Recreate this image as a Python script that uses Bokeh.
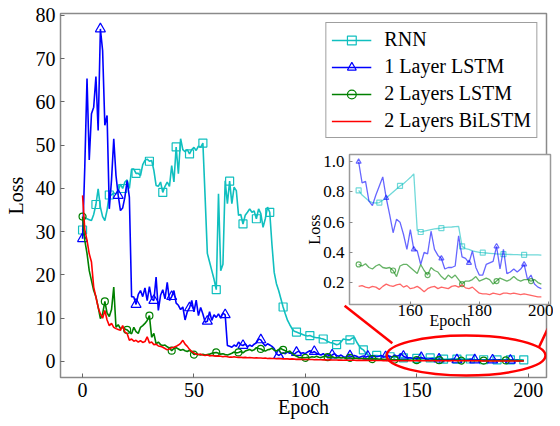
from bokeh.plotting import figure
from bokeh.models import Range1d, Legend, LegendItem, FixedTicker, PrintfTickFormatter
from bokeh.layouts import column
from bokeh.embed import file_html
from bokeh.resources import INLINE

FONT = "Liberation Serif"

# ---------------- data ----------------
series_names = ["RNN", "1 Layer LSTM", "2 Layers LSTM", "2 Layers BiLSTM"]

rnn_head = [
    30.4, 33.4, 33.0, 32.8, 32.6, 34.0, 36.3, 39.9, 35.7, 33.5,
    32.6, 35.0, 38.5, 38.5, 39.0, 38.7, 39.5, 41.0, 40.0, 41.5,
    42.0, 40.0, 44.5, 44.5, 43.5, 43.5, 43.0, 45.5, 46.5, 46.8,
    46.3, 46.5, 44.2, 40.7, 40.5, 41.5, 39.1, 40.5, 41.5, 40.5,
    45.3, 41.5, 49.6, 43.4, 51.5, 49.0, 48.5, 49.0, 48.0, 49.0,
    49.5, 48.8, 49.8, 49.5, 50.5, 38.0, 25.0, 23.0, 21.0, 19.0,
    16.6, 38.8, 21.0, 22.5, 41.8, 36.5, 41.7, 36.5, 40.3, 39.5,
    33.8, 34.0, 31.8, 33.8, 34.5, 35.3, 34.5, 34.8, 33.0, 35.3,
    34.2, 31.0, 33.0, 35.7, 34.5, 27.0, 20.6, 18.0, 16.4, 14.5,
    12.6, 11.0, 9.5, 8.5, 7.6, 7.0, 6.8, 6.6, 6.4, 6.2,
    6.0, 5.9, 6.0, 5.8, 5.6, 5.5, 5.5, 5.3, 5.2, 5.0,
    4.6, 4.4, 4.3, 4.1, 3.9, 4.0, 4.5, 5.2, 5.1, 5.0,
    5.0, 5.4, 5.6, 4.5, 3.7, 3.0, 2.7, 2.0, 1.6, 1.3,
    1.3, 1.4, 1.4, 1.3, 1.25, 1.2, 1.2, 1.15, 1.1, 1.1,
    1.05, 1.0, 0.95, 0.9, 0.85,
]
lstm1_head = [
    28.4, 45.0, 65.4, 46.6, 57.3, 58.8, 65.9, 53.4, 76.9, 71.9,
    54.6, 56.9, 35.3, 42.0, 51.5, 43.0, 38.4, 34.9, 35.5, 38.0,
    41.8, 38.0, 15.0, 14.9, 13.2, 15.5, 16.4, 15.0, 17.0, 14.1,
    17.3, 14.5, 14.1, 19.5, 11.8, 15.3, 16.6, 14.5, 18.3, 14.1,
    15.0, 16.4, 13.5, 13.0, 12.0, 12.6, 9.6, 11.5, 12.4, 14.1,
    11.5, 14.2, 10.6, 12.5, 11.0, 9.1, 9.3, 11.5, 9.5, 10.8,
    10.2, 11.0, 10.0, 11.2, 10.8, 3.7, 3.5, 3.3, 3.8, 3.5,
    4.5, 3.9, 3.7, 4.1, 3.4, 3.8, 3.5, 4.0, 4.3, 5.2,
    5.0, 4.2, 3.6, 4.1, 3.8, 3.5, 3.0, 1.8, 1.4, 1.7,
    2.0, 1.8, 2.2, 1.9, 2.0, 1.7, 2.1, 2.4, 1.9, 2.0,
    1.8, 2.2, 2.5, 2.0, 2.3, 1.9, 1.7, 1.5, 1.8, 1.4,
    1.6, 1.3, 1.5, 1.8, 1.4, 1.2, 1.5, 1.1, 1.0, 1.2,
    1.3, 1.1, 1.4, 1.2, 0.9, 1.1, 1.3, 1.0, 1.2, 1.1,
    1.0, 1.3, 1.1, 1.2, 1.4, 1.0, 1.1, 1.3, 1.2, 1.0,
    1.5, 1.2, 1.4, 1.8, 1.2,
]
lstm2_head = [
    33.5, 28.0, 25.0, 21.0, 18.7, 16.4, 15.0, 12.6, 9.9, 11.0,
    13.9, 11.2, 10.4, 12.0, 17.2, 7.9, 8.5, 7.6, 7.9, 7.5,
    7.3, 6.8, 6.4, 7.9, 6.9, 6.5, 7.9, 8.3, 8.8, 9.5,
    10.6, 5.6, 6.5, 4.1, 4.5, 3.9, 3.7, 3.8, 3.4, 3.1,
    2.5, 3.0, 3.2, 2.9, 2.6, 2.8, 2.5, 2.3, 2.6, 2.2,
    1.6, 1.8, 1.6, 1.5, 1.7, 1.5, 1.6, 1.7, 1.9, 2.0,
    2.1, 1.9, 1.7, 1.8, 1.6, 1.5, 1.7, 1.9, 2.2, 2.0,
    2.1, 2.3, 2.0, 2.4, 2.6, 2.8, 2.5, 2.7, 3.2, 3.0,
    2.9, 2.6, 2.4, 2.7, 2.8, 3.1, 2.6, 2.4, 2.8, 3.0,
    2.7, 2.5, 2.2, 2.4, 1.9, 1.5, 1.2, 1.0, 0.9, 0.9,
    0.85, 1.0, 0.9, 1.1, 1.0, 1.2, 1.0, 0.9, 1.1, 1.2,
    1.0, 0.95, 1.1, 0.9, 0.85, 0.95, 0.8, 0.9, 0.75, 0.8,
    0.85, 0.7, 0.75, 0.8, 0.65, 0.7, 0.75, 0.6, 0.65, 0.7,
    0.55, 0.6, 0.65, 0.5, 0.55, 0.5, 0.45, 0.5, 0.45, 0.4,
    0.45, 0.4, 0.38, 0.35, 0.34,
]
bilstm_head = [
    38.4, 30.5, 28.0, 24.9, 23.0, 17.2, 14.9, 12.5, 11.0, 10.0,
    11.8, 9.6, 8.3, 8.8, 7.9, 7.6, 7.4, 7.2, 8.3, 6.8,
    6.5, 4.9, 5.2, 4.7, 4.9, 4.5, 4.8, 4.4, 4.6, 5.7,
    4.3, 4.5, 3.9, 4.0, 3.6, 3.5, 3.3, 3.0, 2.7, 2.9,
    3.2, 3.3, 3.5, 3.8, 4.2, 4.9, 4.0, 3.5, 2.8, 2.3,
    2.0, 1.7, 1.6, 1.7, 1.5, 1.4, 1.5, 1.3, 1.4, 1.3,
    1.2, 1.3, 1.2, 1.1, 1.2, 1.1, 1.0, 1.0, 1.1, 1.0,
    0.95, 1.0, 0.9, 0.95, 0.85, 0.9, 0.85, 0.8, 0.85, 0.8,
    0.8, 0.75, 0.8, 0.7, 0.75, 0.7, 0.7, 0.65, 0.7, 0.65,
    0.6, 0.65, 0.6, 0.55, 0.6, 0.55, 0.5, 0.55, 0.5, 0.5,
    0.45, 0.5, 0.45, 0.45, 0.4, 0.45, 0.4, 0.4, 0.38, 0.4,
    0.35, 0.38, 0.35, 0.33, 0.35, 0.32, 0.33, 0.3, 0.32, 0.3,
    0.28, 0.3, 0.28, 0.27, 0.28, 0.26, 0.27, 0.25, 0.26, 0.24,
    0.25, 0.23, 0.24, 0.22, 0.23, 0.21, 0.22, 0.2, 0.21, 0.2,
    0.19, 0.2, 0.18, 0.19, 0.18,
]

# epochs 145..198 (also shown in the zoomed inset)
rnn_tail = [
    0.81, 0.78, 0.76, 0.74, 0.73, 0.727, 0.73, 0.745, 0.76, 0.78,
    0.80, 0.82, 0.84, 0.855, 0.875, 0.895, 0.92, 0.545, 0.535, 0.54,
    0.545, 0.55, 0.555, 0.558, 0.56, 0.565, 0.567, 0.568, 0.57, 0.572,
    0.44, 0.425, 0.42, 0.41, 0.405, 0.40, 0.398, 0.396, 0.394, 0.392,
    0.39, 0.389, 0.388, 0.387, 0.386, 0.385, 0.385, 0.384, 0.384, 0.383,
    0.383, 0.383, 0.383, 0.382,
]
lstm1_tail = [
    1.00, 0.86, 0.87, 0.74, 0.71, 0.78, 0.84, 0.90, 0.76, 0.65,
    0.53, 0.62, 0.60, 0.52, 0.42, 0.55, 0.42, 0.41, 0.32, 0.40,
    0.39, 0.54, 0.42, 0.38, 0.36, 0.29, 0.30, 0.30, 0.31, 0.51,
    0.37, 0.36, 0.33, 0.41, 0.30, 0.25, 0.25, 0.32, 0.33, 0.34,
    0.44, 0.29, 0.42, 0.26, 0.27, 0.29, 0.27, 0.29, 0.32, 0.22,
    0.25, 0.19, 0.17, 0.16,
]
lstm2_tail = [
    0.32, 0.31, 0.325, 0.30, 0.29, 0.31, 0.32, 0.30, 0.295, 0.30,
    0.28, 0.24, 0.31, 0.32, 0.32, 0.30, 0.28, 0.26, 0.32, 0.28,
    0.25, 0.30, 0.28, 0.27, 0.24, 0.22, 0.25, 0.23, 0.25, 0.22,
    0.19, 0.21, 0.21, 0.22, 0.24, 0.21, 0.22, 0.23, 0.22, 0.19,
    0.21, 0.23, 0.22, 0.21, 0.22, 0.24, 0.22, 0.21, 0.22, 0.22,
    0.21, 0.22, 0.20, 0.19,
]
bilstm_tail = [
    0.175, 0.18, 0.17, 0.165, 0.175, 0.17, 0.155, 0.175, 0.19, 0.18,
    0.175, 0.185, 0.19, 0.17, 0.18, 0.16, 0.165, 0.175, 0.16, 0.14,
    0.16, 0.17, 0.175, 0.16, 0.17, 0.165, 0.16, 0.175, 0.18, 0.17,
    0.185, 0.165, 0.16, 0.17, 0.15, 0.13, 0.125, 0.125, 0.12, 0.13,
    0.125, 0.12, 0.13, 0.13, 0.125, 0.13, 0.125, 0.12, 0.125, 0.12,
    0.115, 0.11, 0.105, 0.105,
]

x_ticks = [0, 50, 100, 150, 200]
y_ticks = [0, 10, 20, 30, 40, 50, 60, 70, 80]
inset_x_ticks = [160, 180, 200]
inset_y_ticks = [0.2, 0.4, 0.6, 0.8, 1.0]
inset_start = 145

rnn = rnn_head + rnn_tail
lstm1 = lstm1_head + lstm1_tail
lstm2 = lstm2_head + lstm2_tail
bilstm = bilstm_head + bilstm_tail
epochs = list(range(len(rnn)))

colors = ["#10BFBF", "#0000FF", "#008000", "#FF0000"]
markers = ["square", "triangle", "circle", None]
mark_every = [6, 8, 10, None]
marker_sizes = [8, 10, 7, None]
all_series = [rnn, lstm1, lstm2, bilstm]

# ---------------- main figure ----------------
p = figure(width=560, height=426, x_range=Range1d(-9.9, 208.2), y_range=Range1d(-3.7, 80.46),
           output_backend="svg", toolbar_location=None,
           min_border_left=60, min_border_right=11, min_border_top=13, min_border_bottom=49)
p.xgrid.visible = False
p.ygrid.visible = False
p.outline_line_color = "#8a8a8a"
p.outline_line_width = 1.5
p.background_fill_color = "white"
p.border_fill_color = "white"

for ax in (p.xaxis[0], p.yaxis[0]):
    ax.axis_line_color = None
    ax.major_tick_in = 4
    ax.major_tick_out = 0
    ax.minor_tick_line_color = None
    ax.major_tick_line_color = "#666666"
    ax.major_label_text_font = FONT
    ax.major_label_text_font_size = "20px"
    ax.major_label_text_color = "black"
    ax.axis_label_text_font = FONT
    ax.axis_label_text_font_size = "20px"
    ax.axis_label_text_font_style = "normal"
    ax.axis_label_text_color = "black"
p.xaxis.ticker = FixedTicker(ticks=x_ticks)
p.yaxis.ticker = FixedTicker(ticks=y_ticks)
p.xaxis.axis_label = "Epoch"
p.yaxis.axis_label = "Loss"
p.xaxis.major_label_standoff = 5
p.xaxis.axis_label_standoff = -4
p.yaxis.major_label_standoff = 5
p.yaxis.axis_label_standoff = 6

items = []
for name, ys, c, m, k, s in zip(series_names, all_series, colors, markers, mark_every, marker_sizes):
    rs = [p.line(epochs, ys, line_color=c, line_width=1.6)]
    if m is not None:
        rs.append(p.scatter(epochs[::k], ys[::k], marker=m, size=s, fill_color=None,
                            line_color=c, line_width=1.2))
    items.append(LegendItem(label=name, renderers=rs))

legend = Legend(items=items, location="top_right", margin=9,
                label_text_font=FONT, label_text_font_size="20px", label_text_color="black",
                border_line_color="#404040", border_line_width=1,
                background_fill_color="white", background_fill_alpha=1.0,
                padding=5, spacing=4, glyph_width=40, glyph_height=22,
                label_height=22, label_standoff=13)
p.add_layout(legend)

# zoom highlight (annotation geometry)
zoom_cx, zoom_cy, zoom_w, zoom_h = 172.1, 1.39, 71.3, 9.25
p.ellipse(x=[zoom_cx], y=[zoom_cy], width=zoom_w, height=zoom_h,
          fill_alpha=0, line_color="#FF0000", line_width=2.5)
p.segment(x0=[117.6, 211.9], y0=[12.9, 11.0], x1=[139.0, 204.8], y1=[4.2, 3.3],
          line_color="#FF0000", line_width=2.5)

# ---------------- inset figure ----------------
ins = figure(frame_width=201, frame_height=150,
             x_range=Range1d(142.35, 200.65), y_range=Range1d(0.055, 1.048),
             output_backend="svg", toolbar_location=None,
             min_border_left=49, min_border_right=14, min_border_top=2, min_border_bottom=32,
             styles={"position": "absolute", "left": "289px", "top": "152px"})
ins.xgrid.visible = False
ins.ygrid.visible = False
ins.outline_line_color = "#9a9a9a"
ins.outline_line_width = 1.5
ins.background_fill_color = "white"
ins.border_fill_alpha = 0.0

for ax in (ins.xaxis[0], ins.yaxis[0]):
    ax.axis_line_color = None
    ax.major_tick_in = 3
    ax.major_tick_out = 0
    ax.minor_tick_line_color = None
    ax.major_tick_line_color = "#888888"
    ax.major_label_text_font = FONT
    ax.major_label_text_font_size = "17px"
    ax.major_label_text_color = "black"
    ax.axis_label_text_font = FONT
    ax.axis_label_text_font_size = "16px"
    ax.axis_label_text_font_style = "normal"
    ax.axis_label_text_color = "black"
ins.xaxis.ticker = FixedTicker(ticks=inset_x_ticks)
ins.yaxis.ticker = FixedTicker(ticks=inset_y_ticks)
ins.yaxis.formatter = PrintfTickFormatter(format="%.1f")
ins.xaxis.axis_label = "Epoch"
ins.yaxis.axis_label = "Loss"
ins.xaxis.major_label_standoff = 0
ins.xaxis.axis_label_standoff = -7
ins.yaxis.major_label_standoff = 5
ins.yaxis.axis_label_standoff = -3

ins_epochs = epochs[inset_start:]
for ys, c, m, k in zip(all_series, colors, markers, mark_every):
    ys_in = ys[inset_start:]
    ins.line(ins_epochs, ys_in, line_color=c, line_width=1.3, line_alpha=0.6)
    if m is not None:
        ins.scatter(ins_epochs[::k], ys_in[::k], marker=m, size=5, fill_color=None,
                    line_color=c, line_alpha=0.6, line_width=1.2)

layout = column(p, ins, width=560, height=426,
                styles={"position": "relative", "overflow": "hidden"})
open("out.html", "w").write(file_html(layout, INLINE))
